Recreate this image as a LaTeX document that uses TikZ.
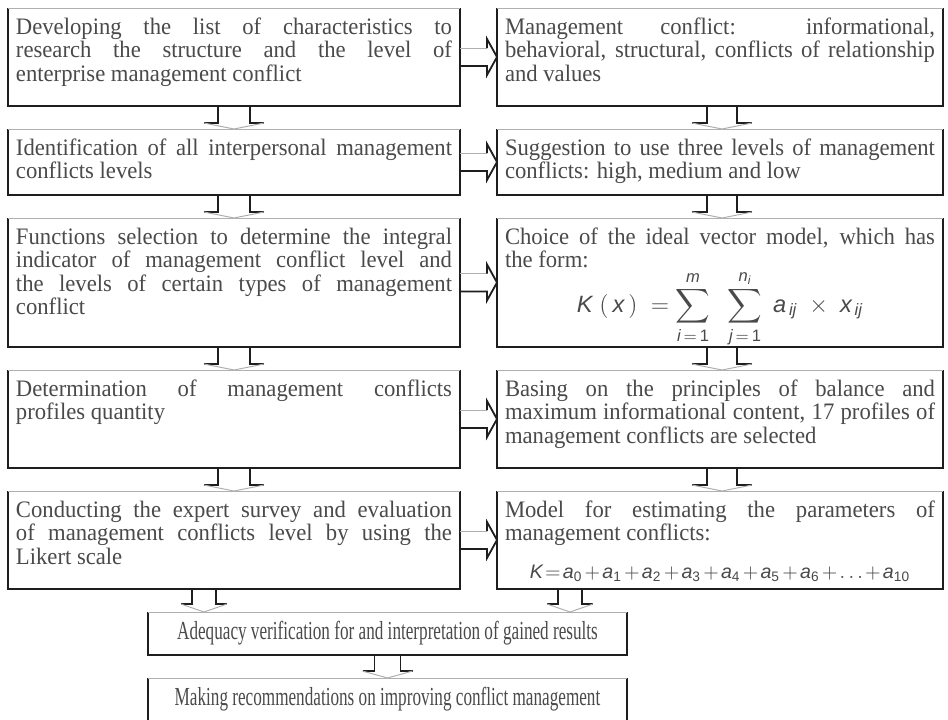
\documentclass[tikz,border=0pt]{standalone}
\usepackage{amsmath}
\usepackage{fontspec}
\setmainfont{Liberation Serif}[FakeStretch=0.96]
\setsansfont{Liberation Sans}
\newfontfamily\narrowserif{Liberation Serif}[FakeStretch=0.66]
\usetikzlibrary{positioning, calc}

\definecolor{edgedark}{HTML}{1E1E1E}
\definecolor{edgelight}{HTML}{B0B0B0}
\definecolor{textgray}{HTML}{4A4A4A}

\hbadness=10000
\tolerance=10000

\newcommand{\boxtext}[3]{\parbox[c][#1][t]{#2}{\rule{0pt}{13pt}#3}}
\newcommand{\fv}[1]{\textsf{\itshape #1}}

\begin{document}
\begin{tikzpicture}[x=0.5pt, y=-0.5pt,
    every node/.style={font=\fontsize{11.8}{11.75}\selectfont, text=textgray},
    box/.style={inner xsep=4pt, inner ysep=0pt, outer sep=0pt},
    wide/.style={box, minimum width=239.5pt, minimum height=21.5pt, font=\narrowserif\fontsize{13}{13}\selectfont},
    dark/.style={draw=edgedark, line width=0.9pt},
    light/.style={draw=edgelight, line width=0.5pt}]

  % Page
  \useasboundingbox (0,0) rectangle (948,719);
  \clip (0,0) rectangle (948,719);
  \fill[white] (0,0) rectangle (948,719);

  % Left column
  \node[box, anchor=north west] (l1) at (8,8) {\boxtext{49pt}{218pt}{Developing the list of characteristics to\linebreak research the structure and the level of\linebreak enterprise management conflict}};
  \node[box, below=11.5pt of l1] (l2) {\boxtext{33pt}{218pt}{Identification of all interpersonal management\linebreak conflicts levels}};
  \node[box, below=11.5pt of l2] (l3) {\boxtext{64.5pt}{218pt}{Functions selection to determine the integral\linebreak indicator of management conflict level and\linebreak the levels of certain types of management\linebreak conflict}};
  \node[box, below=11.5pt of l3] (l4) {\boxtext{49pt}{218pt}{Determination of management conflicts\linebreak profiles quantity}};
  \node[box, below=11.5pt of l4] (l5) {\boxtext{49pt}{218pt}{Conducting the expert survey and evaluation\linebreak of management conflicts level by using the\linebreak Likert scale}};

  % Right column
  \node[box, right=18.5pt of l1] (r1) {\boxtext{49pt}{215pt}{Management conflict: informational,\linebreak behavioral, structural, conflicts of relationship\linebreak and values}};
  \node[box, right=18.5pt of l2] (r2) {\boxtext{33pt}{215pt}{Suggestion to use three levels of management\linebreak conflicts: high, medium and low}};
  \node[box, right=18.5pt of l3] (r3) {\boxtext{64.5pt}{215pt}{Choice of the ideal vector model, which has\linebreak the form:\par\centering
    $\displaystyle \fv{K}\;(\,\fv{x}\,)\;=\sum_{\fv{i}\,=\,\textsf{1}}^{\fv{m}}\;\;\sum_{\fv{j}\,=\,\textsf{1}}^{\fv{n}_{\fv{i}}}\;\fv{a}_{\,\fv{ij}}\;\times\;\fv{x}_{\,\fv{ij}}$}};
  \node[box, right=18.5pt of l4] (r4) {\boxtext{49pt}{215pt}{Basing on the principles of balance and\linebreak maximum informational content, 17 profiles of\linebreak management conflicts are selected}};
  \node[box, right=18.5pt of l5] (r5) {\boxtext{49pt}{215pt}{Model for estimating the parameters of\linebreak management conflicts:\par\vspace{7pt}\centering
    {\fontsize{9.8}{12}\selectfont$\medmuskip=2mu \thickmuskip=2mu \fv{K}=\fv{a}_{\textsf{0}}+\fv{a}_{\textsf{1}}+\fv{a}_{\textsf{2}}+\fv{a}_{\textsf{3}}+\fv{a}_{\textsf{4}}+\fv{a}_{\textsf{5}}+\fv{a}_{\textsf{6}}+\ldots+\fv{a}_{\textsf{10}}$}}};

  % Bottom boxes
  \node[wide, below=11.5pt of l5.south west, anchor=north west, xshift=70pt] (adeq) {Adequacy verification for and interpretation of gained results};
  \node[wide, below=11.5pt of adeq] (recom) {Making recommendations on improving conflict management};

  % Box edges
  \foreach \n in {l1,l2,l3,l4,l5,r1,r2,r3,r4,r5,adeq,recom} {
    \draw[dark] (\n.north west) -- (\n.south west) -- (\n.south east) -- (\n.north east);
    \draw[light] (\n.north west) -- (\n.north east);
  }

  % Down arrows
  \foreach \a/\b/\dx/\sw/\hw/\hl in {l1/l2/0/16/30/6, l2/l3/0/16/30/6, l3/l4/0/16/30/6, l4/l5/0/16/30/6,
      r1/r2/2/15/30/6, r2/r3/2/15/30/6, r3/r4/2/15/30/6, r4/r5/2/15/30/6,
      l5/adeq/-30/12/23/8, r5/adeq/-150/12/23/8, adeq/recom/0/13/25/7} {
    \coordinate (from) at ($(\a.south)+(\dx,0)$);
    \coordinate (to) at (from |- \b.north);
    \draw[dark] ($(from)+(-\sw,0)$) -- ($(to)+(-\sw,-\hl)$) -- ($(to)+(-\hw,-\hl)$);
    \draw[dark] ($(from)+(\sw,0)$) -- ($(to)+(\sw,-\hl)$) -- ($(to)+(\hw,-\hl)$);
    \draw[light] ($(to)+(-\hw,-\hl)$) -- (to) -- ($(to)+(\hw,-\hl)$);
  }

  % Right arrows
  \foreach \a/\b in {l1/r1, l2/r2, l3/r3, l4/r4, l5/r5} {
    \draw[light] ($(\a.east)+(0,-9)$) -- ($(\b.west)+(-10,-9)$);
    \draw[dark] ($(\b.west)+(-10,-9)$) -- ($(\b.west)+(-10,-18)$) -- (\b.west) -- ($(\b.west)+(-10,18)$) -- ($(\b.west)+(-10,9)$) -- ($(\a.east)+(0,9)$);
  }

\end{tikzpicture}
\end{document}
